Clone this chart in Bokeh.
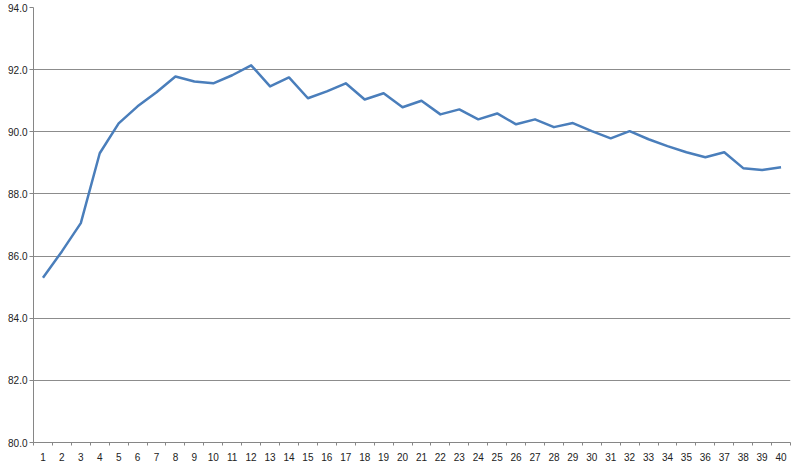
from bokeh.plotting import figure
from bokeh.models import FixedTicker, PrintfTickFormatter, Range1d
from bokeh.embed import file_html
from bokeh.resources import INLINE

x_vals = list(range(1, 41))
y_vals = [85.30, 86.15, 87.06, 89.31, 90.27, 90.82, 91.27, 91.78, 91.62, 91.56,
          91.82, 92.14, 91.46, 91.75, 91.08, 91.30, 91.56, 91.04, 91.24, 90.79,
          91.00, 90.56, 90.72, 90.40, 90.59, 90.24, 90.40, 90.15, 90.28, 90.02,
          89.79, 90.02, 89.76, 89.54, 89.34, 89.18, 89.34, 88.83, 88.77, 88.86]
y_ticks = [80, 82, 84, 86, 88, 90, 92, 94]

p = figure(width=792, height=463, output_backend="svg", toolbar_location=None,
           x_range=Range1d(0.5, 40.5), y_range=Range1d(80, 94),
           min_border_left=33, min_border_right=2, min_border_top=7, min_border_bottom=20)
p.outline_line_color = None
p.background_fill_color = "white"

p.line(x_vals, y_vals, line_color="#4A7EBB", line_width=2.5, line_join="round")

# y axis
p.yaxis.ticker = FixedTicker(ticks=y_ticks)
p.yaxis.formatter = PrintfTickFormatter(format="%.1f")
p.yaxis.major_tick_out = 4
p.yaxis.major_tick_in = 0
p.yaxis.minor_tick_line_color = None
p.yaxis.axis_line_color = "#868686"
p.yaxis.major_tick_line_color = "#868686"
p.yaxis.major_label_text_font = "Liberation Sans"
p.yaxis.major_label_text_font_size = "10px"
p.yaxis.major_label_text_color = "#222222"
p.yaxis.major_label_standoff = 2

# x axis
p.xaxis.ticker = FixedTicker(ticks=x_vals, minor_ticks=[i + 0.5 for i in range(0, 41)])
p.xaxis.major_tick_out = 0
p.xaxis.major_tick_in = 0
p.xaxis.minor_tick_out = 3
p.xaxis.minor_tick_in = 0
p.xaxis.minor_tick_line_color = "#868686"
p.xaxis.axis_line_color = "#868686"
p.xaxis.major_label_text_font = "Liberation Sans"
p.xaxis.major_label_text_font_size = "10px"
p.xaxis.major_label_text_color = "#222222"
p.xaxis.major_label_standoff = 7

# grid
p.xgrid.grid_line_color = None
p.ygrid.ticker = FixedTicker(ticks=y_ticks)
p.ygrid.grid_line_color = "#8C8C8C"
p.ygrid.grid_line_width = 1

open("out.html", "w").write(file_html(p, INLINE))
